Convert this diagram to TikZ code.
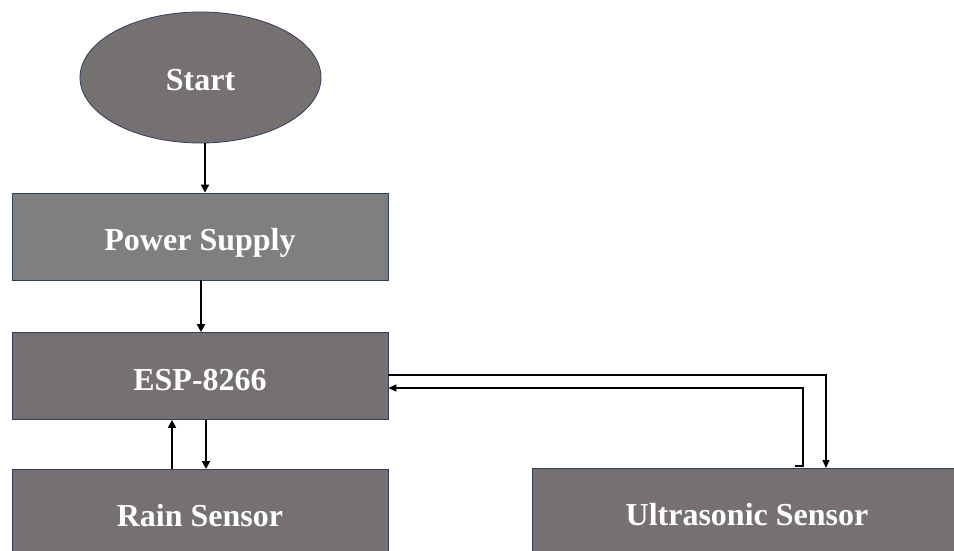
\documentclass[tikz,border=0pt]{standalone}
\usepackage{fontspec}
\setmainfont{Liberation Serif}
\usetikzlibrary{shapes.geometric,arrows.meta}
\definecolor{boxfill}{HTML}{767171}
\definecolor{psfill}{HTML}{7F7F7F}
\definecolor{boxline}{HTML}{2F3F5F}
\tikzset{
  blk/.style={draw=boxline, line width=0.8pt, fill=boxfill, minimum width=376pt, minimum height=87pt, inner sep=0pt,
    text=white, font=\fontsize{32}{36}\selectfont\bfseries, text height=32pt, text depth=4pt},
  arr/.style={draw=black, line width=2pt, -{Triangle[width=8pt,length=8pt]}},
  thinarr/.style={draw=black, line width=1.4pt, -{Triangle[width=7pt,length=8pt]}},
}
\begin{document}
\begin{tikzpicture}[x=1pt,y=-1pt]
\useasboundingbox (0,0) rectangle (954,551);
\clip (0,0) rectangle (954,551);
\fill[white] (0,0) rectangle (954,551);
\node[blk, ellipse, minimum width=241pt, minimum height=131pt, text height=30pt] (start) at (200.5,77.5) {Start};
\node[blk, fill=psfill] (power) at (200,236.5) {Power Supply};
\node[blk] (esp) at (200,376) {ESP-8266};
\node[blk, anchor=north] (rain) at (200,469) {Rain Sensor};
\node[blk, anchor=north west, minimum width=440pt] (ultra) at (532,468) {};
\node[text=white, font=\fontsize{32}{36}\selectfont\bfseries, text height=32pt, text depth=4pt, inner sep=0pt] (ultratext) at (747,511.5) {Ultrasonic Sensor};
\draw[arr] ([xshift=4.5pt]start.south) -- ([xshift=4.5pt]start.south |- power.north);
\draw[arr] ([xshift=1pt]power.south) -- ([xshift=1pt]esp.north);
\draw[arr] ([xshift=6pt]esp.south) -- ([xshift=6pt]esp.south |- rain.north);
\draw[arr] ([xshift=-28pt]rain.north) -- ([xshift=-28pt]esp.south);
\coordinate (udown) at ([xshift=294pt]ultra.north west);
\coordinate (uup) at ([xshift=263pt,yshift=2pt]ultra.north west);
\draw[thinarr] ([yshift=1pt]esp.east) -| (udown);
\draw[thinarr] (uup) -- ++(8,0) |- ([yshift=-12pt]esp.east);
\end{tikzpicture}
\end{document}
